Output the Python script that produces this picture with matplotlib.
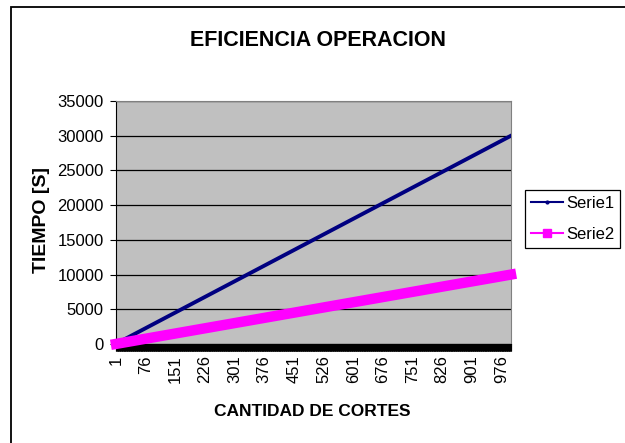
import matplotlib
matplotlib.use("Agg")
import matplotlib.pyplot as plt
from matplotlib import font_manager
from matplotlib.lines import Line2D
from matplotlib.patches import Rectangle

# values (tiempo [s] vs cantidad de cortes)
cortes = [1, 76, 151, 226, 301, 376, 451, 526, 601, 676, 751, 826, 901, 976, 1000]
serie1 = [30, 2280, 4530, 6780, 9030, 11280, 13530, 15780, 18030, 20280,
          22530, 24780, 27030, 29280, 30000]
serie2 = [10, 760, 1510, 2260, 3010, 3760, 4510, 5260, 6010, 6760,
          7510, 8260, 9010, 9760, 10000]
etiquetas_x = [1, 76, 151, 226, 301, 376, 451, 526, 601, 676, 751, 826, 901, 976]
ticks_y = [0, 5000, 10000, 15000, 20000, 25000, 30000, 35000]
n_categorias = 1000

names = {f.name for f in font_manager.fontManager.ttflist}
narrow = "Liberation Sans Narrow" if "Liberation Sans Narrow" in names else "Liberation Sans"
wide = "Liberation Sans"

fig = plt.figure(figsize=(6.25, 4.43), dpi=100)
ax = fig.add_axes([0.1856, 0.2235, 0.632, 0.5485])
ax.set_facecolor("#c0c0c0")

# outer chart frame (right and bottom edges fall outside the picture)
top = 1 - 7 / 443
fig.patches.append(Rectangle((11 / 625, -0.2), 1.2, top + 0.2,
                             transform=fig.transFigure, fill=False,
                             edgecolor="black", linewidth=1.3))

ax.plot(cortes, serie1, color="#000080", linewidth=2.8, zorder=3)
ax.plot(cortes, serie2, color="#ff00ff", linewidth=7.5, zorder=4,
        solid_capstyle="projecting", clip_on=False)

ax.set_xlim(1, n_categorias)
ax.set_ylim(0, 35000)
ax.set_yticks(ticks_y)
ax.set_yticklabels([str(v) for v in ticks_y], fontfamily=narrow, fontsize=12)
ax.set_xticks(etiquetas_x)
ax.set_xticklabels([str(v) for v in etiquetas_x], rotation=90,
                   fontfamily=wide, fontsize=12)
ax.set_xticks(range(1, n_categorias + 1), minor=True)
ax.tick_params(axis="x", which="both", length=5.2, width=0.8, direction="out",
               pad=3, color="black")
ax.tick_params(axis="y", length=4.3, width=0.8, pad=4.5)

ax.yaxis.grid(True, color="black", linewidth=0.9)
ax.set_axisbelow(True)
for s in ["top", "right"]:
    ax.spines[s].set_color("#808080")
for s in ["left", "bottom"]:
    ax.spines[s].set_color("black")

fig.text(318 / 625, 1 - 41 / 443, "EFICIENCIA OPERACION", ha="center", va="center",
         fontfamily=narrow, fontweight="bold", fontsize=15.5)
fig.text(312 / 625, 1 - 412 / 443, "CANTIDAD DE CORTES", ha="center", va="center",
         fontfamily=narrow, fontweight="bold", fontsize=12.5)
fig.text(41 / 625, 1 - 220 / 443, "TIEMPO [S]", ha="center", va="center",
         rotation=90, fontfamily=wide, fontweight="bold", fontsize=14)

handles = [
    Line2D([], [], color="#000080", linewidth=1.5, marker="o", markersize=2),
    Line2D([], [], color="#ff00ff", linewidth=1.5, marker="s", markersize=6),
]
leg = fig.legend(handles, ["Serie1", "Serie2"], loc="upper left",
                 bbox_to_anchor=(525 / 625, 1 - 190 / 443),
                 prop={"family": narrow, "size": 12}, frameon=True,
                 fancybox=False, edgecolor="black", framealpha=1,
                 handlelength=1.9, handletextpad=0.2, borderpad=0.35,
                 labelspacing=0.95, borderaxespad=0)
leg.get_frame().set_linewidth(0.9)

fig.savefig("out.png", dpi=100, facecolor="white")
